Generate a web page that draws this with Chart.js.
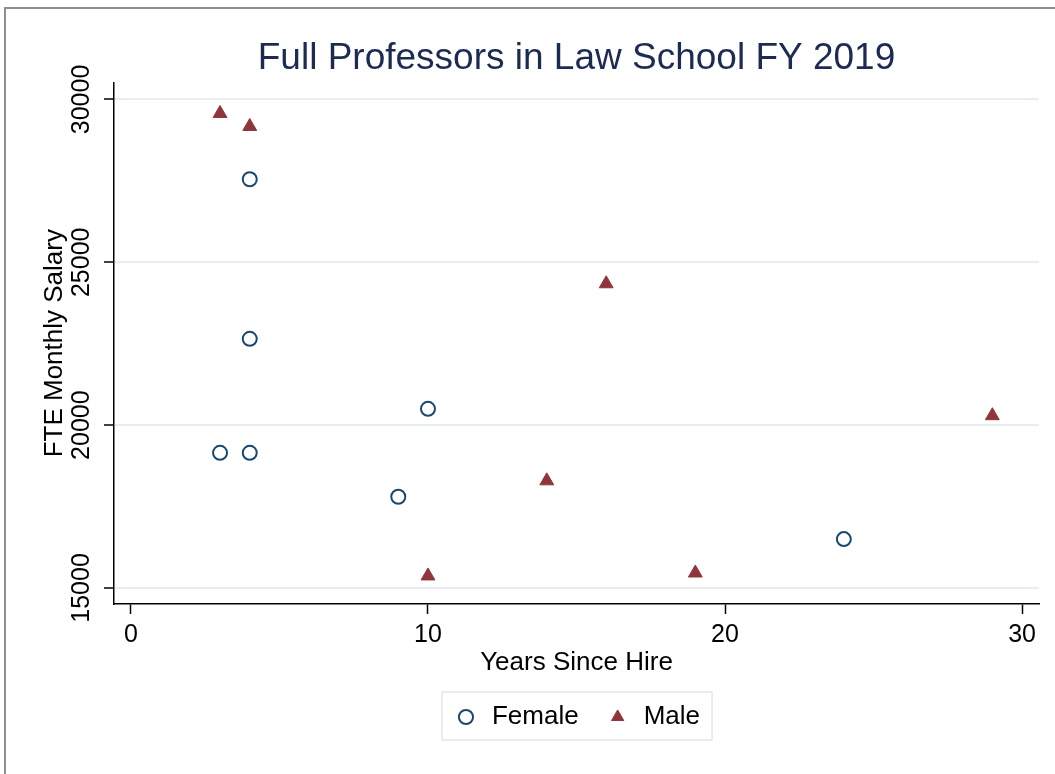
<!DOCTYPE html>
<html>
<head>
<meta charset="utf-8">
<script src="https://cdn.jsdelivr.net/npm/chart.js@4"></script>
<style>
    body { margin: 0; background: #fff; overflow: hidden; }
    #frame {
        position: absolute; left: 4px; top: 7px; width: 2000px; height: 2000px;
        border-left: 2px solid #8e8e8e; border-top: 2px solid #8e8e8e;
    }
    #chart { position: absolute; left: 0; top: 0; }
</style>
</head>
<body>
<div id="frame"></div>
<canvas id="chart" width="1055" height="774"></canvas>
<script>
// Data
const femaleYears = [3, 4, 4, 4, 9, 10, 24];
const femaleSalary = [19150, 19150, 22650, 27550, 17800, 20500, 16500];
const maleYears = [3, 4, 10, 14, 16, 19, 29];
const maleSalary = [29570, 29170, 15370, 18290, 24340, 15460, 20290];

const xTicks = [0, 10, 20, 30];
const yTicks = [15000, 20000, 25000, 30000];

const FONT = '"Liberation Sans", Arial, sans-serif';
const NAVY = '#1a476f';
const MAROON = '#90353b';

function toPoints(xs, ys) {
    return xs.map((x, i) => ({ x: x, y: ys[i] }));
}

// centre title + legend over the plot area, and draw the legend frame
const framePlugin = {
    id: 'frame',
    afterLayout(chart) {
        const a = chart.chartArea;
        [chart.titleBlock, chart.legend].forEach(b => {
            b.left = a.left;
            b.right = a.right;
            b.width = a.right - a.left;
        });
    },
    afterDraw(chart) {
        const hb = chart.legend.legendHitBoxes;
        if (!hb || !hb.length) return;
        const first = hb[0];
        const last = hb[hb.length - 1];
        const ctx = chart.ctx;
        ctx.save();
        ctx.strokeStyle = '#dfe8ec';
        ctx.lineWidth = 1.5;
        const l = first.left - 11;
        const r = last.left + last.width + 12;
        const t = first.top - 12;
        const b = first.top + first.height + 10;
        ctx.strokeRect(l, t, r - l, b - t);
        ctx.restore();
    }
};

const ctx = document.getElementById('chart').getContext('2d');
new Chart(ctx, {
    type: 'scatter',
    data: {
        datasets: [{
            label: 'Female',
            data: toPoints(femaleYears, femaleSalary),
            pointStyle: 'circle',
            pointRadius: 7,
            pointHoverRadius: 7,
            borderWidth: 2,
            borderColor: NAVY,
            backgroundColor: 'rgba(0,0,0,0)'
        }, {
            label: 'Male',
            data: toPoints(maleYears, maleSalary),
            pointStyle: 'triangle',
            pointRadius: 8,
            pointHoverRadius: 8,
            borderWidth: 1,
            borderColor: MAROON,
            backgroundColor: MAROON
        }]
    },
    options: {
        responsive: false,
        animation: false,
        devicePixelRatio: 1,
        layout: { padding: { left: 0, right: 16, top: 0, bottom: 34 } },
        plugins: {
            title: {
                display: true,
                text: 'Full Professors in Law School FY 2019',
                color: '#1c2b54',
                font: { family: FONT, size: 37, weight: 'normal' },
                padding: { top: 37, bottom: 1 }
            },
            legend: {
                position: 'bottom',
                labels: {
                    usePointStyle: true,
                    boxHeight: 10,
                    padding: 26,
                    color: '#000',
                    font: { family: FONT, size: 26 }
                }
            },
            tooltip: { enabled: false }
        },
        scales: {
            x: {
                type: 'linear',
                min: -0.57,
                max: 30.57,
                afterBuildTicks: s => { s.ticks = xTicks.map(v => ({ value: v })); },
                afterFit: s => { s.height = 74; },
                ticks: {
                    color: '#000',
                    padding: 6,
                    font: { family: FONT, size: 25 },
                    callback: v => String(v)
                },
                grid: {
                    drawOnChartArea: false,
                    tickLength: 10,
                    tickColor: '#000',
                    tickWidth: 1.5
                },
                border: { color: '#000', width: 1.5 },
                title: {
                    display: true,
                    text: 'Years Since Hire',
                    color: '#000',
                    padding: 0,
                    font: { family: FONT, size: 26 }
                }
            },
            y: {
                type: 'linear',
                min: 14508,
                max: 30523,
                afterBuildTicks: s => { s.ticks = yTicks.map(v => ({ value: v })); },
                afterFit: s => { s.width = 114; },
                ticks: {
                    color: '#000',
                    minRotation: 90,
                    maxRotation: 90,
                    crossAlign: 'center',
                    padding: -13,
                    font: { family: FONT, size: 25 },
                    callback: v => String(v)
                },
                grid: {
                    color: '#e6eef1',
                    lineWidth: 2,
                    tickLength: 10,
                    tickColor: '#000',
                    tickWidth: 1.5
                },
                border: { color: '#000', width: 1.5 },
                title: {
                    display: true,
                    text: 'FTE Monthly Salary',
                    color: '#000',
                    padding: { top: 39, bottom: 0 },
                    font: { family: FONT, size: 26 }
                }
            }
        }
    },
    plugins: [framePlugin]
});
</script>
</body>
</html>
